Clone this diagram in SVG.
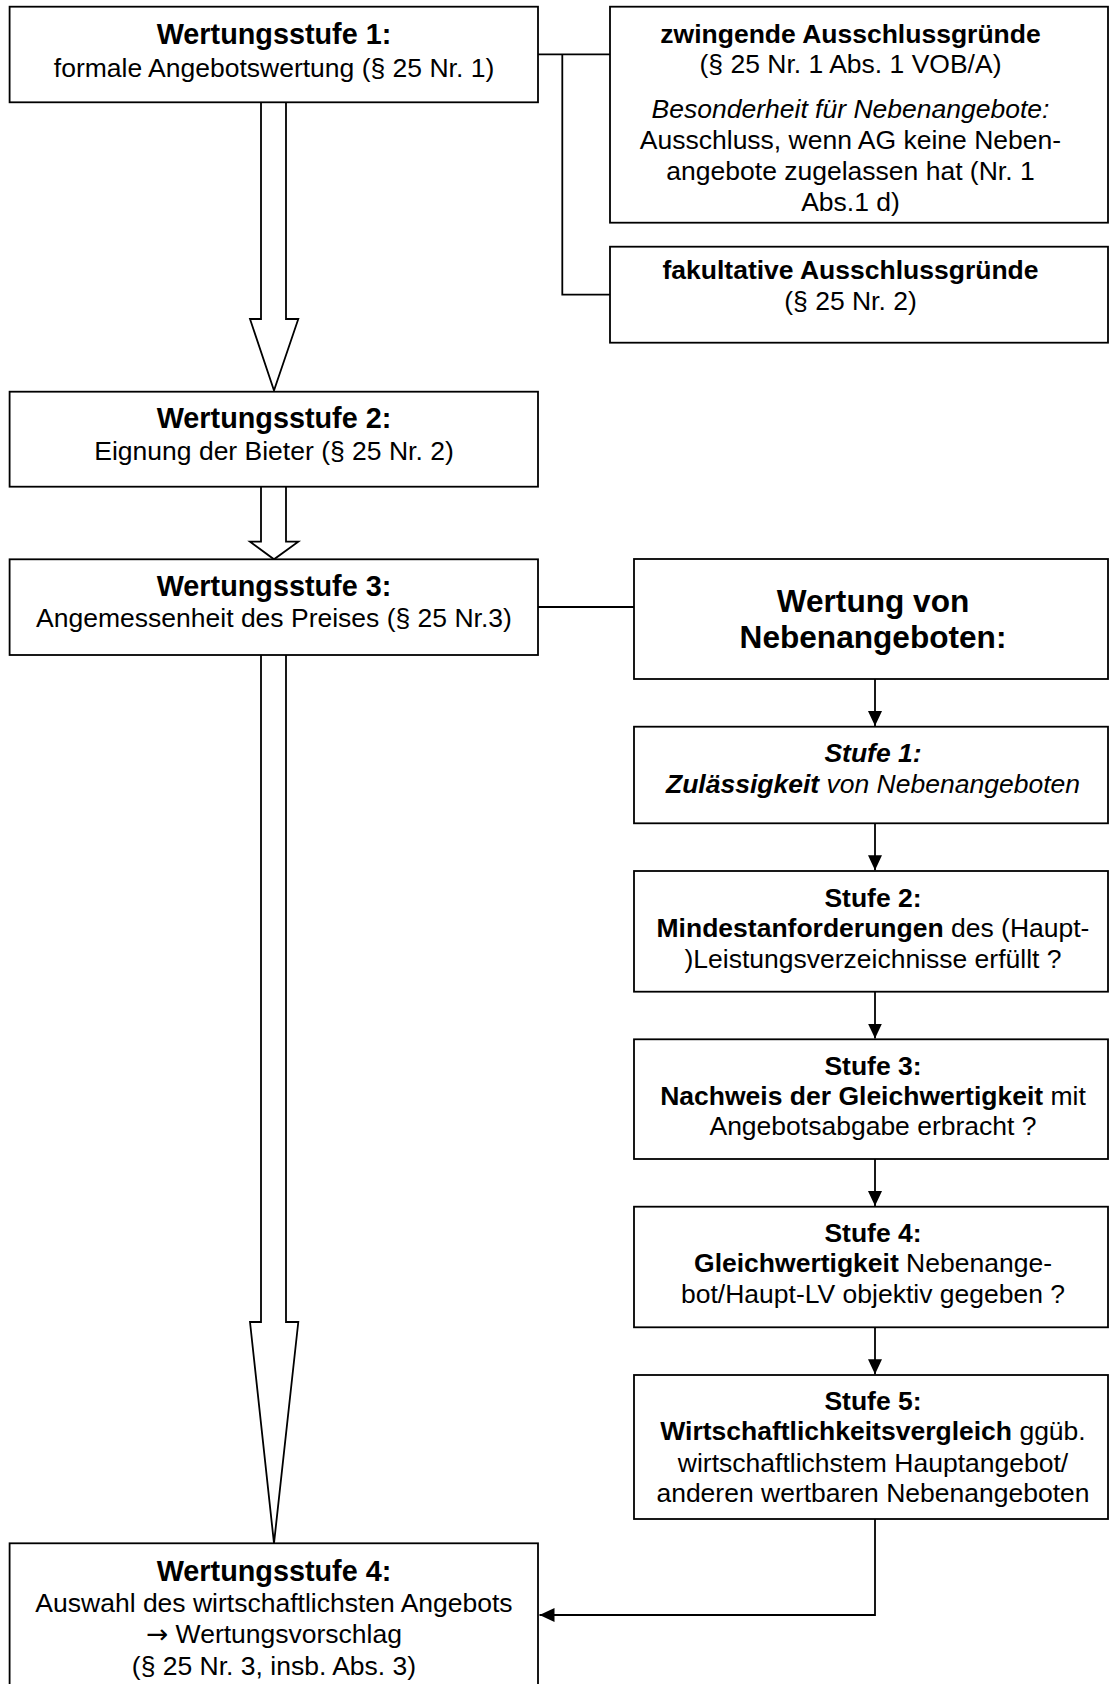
<svg xmlns="http://www.w3.org/2000/svg" width="1110" height="1684" viewBox="0 0 1110 1684">
<style>
  .box { fill: #ffffff; stroke: #000000; stroke-width: 1.8; }
  .ln { fill: none; stroke: #000000; stroke-width: 1.8; }
  .blk { fill: #ffffff; stroke: #000000; stroke-width: 1.8; stroke-linejoin: miter; }
  text { font-family: "Liberation Sans", Arial, sans-serif; fill: #000000; text-anchor: middle; }
  .h { font-size: 28.8px; font-weight: bold; }
  .r { font-size: 26.5px; }
  .big { font-size: 31.6px; font-weight: bold; }
  .b { font-weight: bold; }
  .i { font-style: italic; }
  .arr { font-family: "DejaVu Sans", sans-serif; }
</style>
<defs>
  <marker id="ah" markerUnits="userSpaceOnUse" markerWidth="16" markerHeight="16" viewBox="0 0 16 16" refX="15" refY="8" orient="auto">
    <path d="M0,1 L15,8 L0,15 Z" fill="#000000"/>
  </marker>
</defs>
<rect width="1110" height="1684" fill="#ffffff"/>

<g id="connectors">
  <path class="ln" d="M538,54.3 H610 M562.3,54.3 V294.7 H610"/>
  <path class="ln" d="M538,607 H634"/>
  <path class="blk" d="M261,102.3 V319 H250 L274,390.5 L298.3,319 H286 V102.3"/>
  <path class="blk" d="M261,486.7 V541.7 H250 L274,559.3 L298.3,541.7 H286 V486.7"/>
  <path class="blk" d="M261,655 V1322 H250 L274,1543.3 L298.3,1322 H286 V655"/>
  <path class="ln" d="M875,679 V726" marker-end="url(#ah)"/>
  <path class="ln" d="M875,823.3 V870.3" marker-end="url(#ah)"/>
  <path class="ln" d="M875,991.7 V1038.6" marker-end="url(#ah)"/>
  <path class="ln" d="M875,1159 V1206" marker-end="url(#ah)"/>
  <path class="ln" d="M875,1327.3 V1374.3" marker-end="url(#ah)"/>
  <path class="ln" d="M875,1519 V1615 H539.5" marker-end="url(#ah)"/>
</g>

<g id="stufe1">
  <rect class="box" x="9.6" y="6.7" width="528.4" height="95.6"/>
  <text class="h" x="274" y="44.3">Wertungsstufe 1:</text>
  <text class="r" x="274" y="76.7">formale Angebotswertung (§ 25 Nr. 1)</text>
</g>

<g id="zwingend">
  <rect class="box" x="610" y="6.7" width="498" height="216"/>
  <text class="r b" x="850.5" y="43.3">zwingende Ausschlussgründe</text>
  <text class="r" x="850.5" y="72.7">(§ 25 Nr. 1 Abs. 1 VOB/A)</text>
  <text class="r i" x="850.5" y="118.3">Besonderheit für Nebenangebote:</text>
  <text class="r" x="850.5" y="149">Ausschluss, wenn AG keine Neben-</text>
  <text class="r" x="850.5" y="180">angebote zugelassen hat (Nr. 1</text>
  <text class="r" x="850.5" y="210.7">Abs.1 d)</text>
</g>

<g id="fakultativ">
  <rect class="box" x="610" y="246.7" width="498" height="96"/>
  <text class="r b" x="850.5" y="279.3">fakultative Ausschlussgründe</text>
  <text class="r" x="850.5" y="310">(§ 25 Nr. 2)</text>
</g>

<g id="stufe2">
  <rect class="box" x="9.6" y="391.7" width="528.4" height="95"/>
  <text class="h" x="274" y="428.3">Wertungsstufe 2:</text>
  <text class="r" x="274" y="460">Eignung der Bieter (§ 25 Nr. 2)</text>
</g>

<g id="stufe3">
  <rect class="box" x="9.6" y="559.3" width="528.4" height="95.7"/>
  <text class="h" x="274" y="596">Wertungsstufe 3:</text>
  <text class="r" x="274" y="626.7">Angemessenheit des Preises (§ 25 Nr.3)</text>
</g>

<g id="nebenangebote">
  <rect class="box" x="634" y="559" width="474" height="120"/>
  <text class="big" x="873" y="611.7">Wertung von</text>
  <text class="big" x="873" y="648.3">Nebenangeboten:</text>
</g>

<g id="na-stufe1">
  <rect class="box" x="634" y="726.7" width="474" height="96.6"/>
  <text class="r b i" x="873" y="761.7">Stufe 1:</text>
  <text class="r i" x="873" y="793.3"><tspan class="b">Zulässigkeit</tspan> von Nebenangeboten</text>
</g>

<g id="na-stufe2">
  <rect class="box" x="634" y="871" width="474" height="120.7"/>
  <text class="r b" x="873" y="906.7">Stufe 2:</text>
  <text class="r" x="873" y="936.7"><tspan class="b">Mindestanforderungen</tspan> des (Haupt-</text>
  <text class="r" x="873" y="968.3">)Leistungsverzeichnisse erfüllt ?</text>
</g>

<g id="na-stufe3">
  <rect class="box" x="634" y="1039.3" width="474" height="119.7"/>
  <text class="r b" x="873" y="1075">Stufe 3:</text>
  <text class="r" x="873" y="1105"><tspan class="b">Nachweis der Gleichwertigkeit</tspan> mit</text>
  <text class="r" x="873" y="1135">Angebotsabgabe erbracht ?</text>
</g>

<g id="na-stufe4">
  <rect class="box" x="634" y="1206.7" width="474" height="120.6"/>
  <text class="r b" x="873" y="1241.7">Stufe 4:</text>
  <text class="r" x="873" y="1272.3"><tspan class="b">Gleichwertigkeit</tspan> Nebenange-</text>
  <text class="r" x="873" y="1303.3">bot/Haupt-LV objektiv gegeben ?</text>
</g>

<g id="na-stufe5">
  <rect class="box" x="634" y="1375" width="474" height="144"/>
  <text class="r b" x="873" y="1410">Stufe 5:</text>
  <text class="r" x="873" y="1440"><tspan class="b">Wirtschaftlichkeitsvergleich</tspan> ggüb.</text>
  <text class="r" x="873" y="1471.7">wirtschaftlichstem Hauptangebot/</text>
  <text class="r" x="873" y="1501.7">anderen wertbaren Nebenangeboten</text>
</g>

<g id="stufe4">
  <rect class="box" x="9.6" y="1543.3" width="528.4" height="170"/>
  <text class="h" x="274" y="1581">Wertungsstufe 4:</text>
  <text class="r" x="274" y="1612">Auswahl des wirtschaftlichsten Angebots</text>
  <text class="r" x="274" y="1643"><tspan class="arr">→</tspan> Wertungsvorschlag</text>
  <text class="r" x="274" y="1675">(§ 25 Nr. 3, insb. Abs. 3)</text>
</g>
</svg>
